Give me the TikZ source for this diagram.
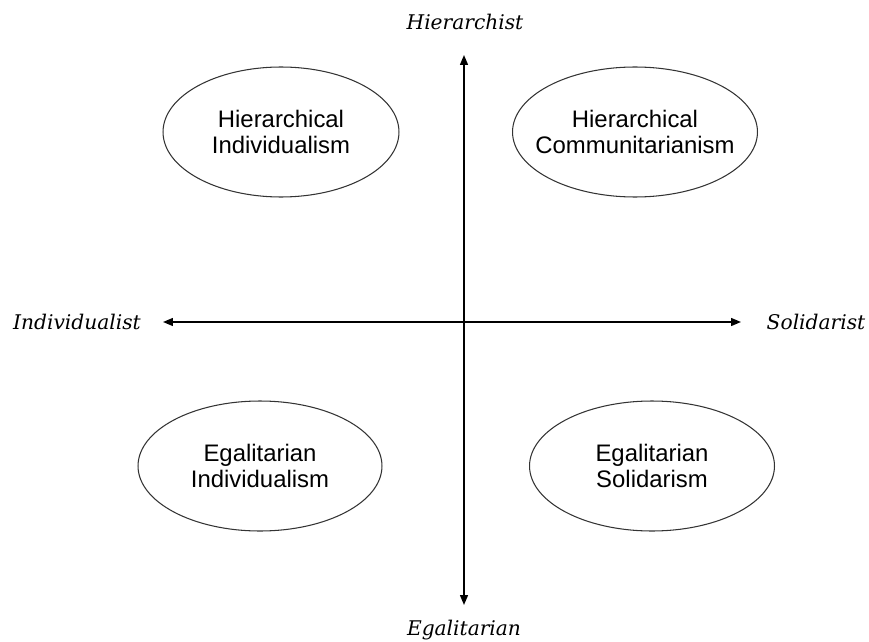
\documentclass[tikz,border=0pt]{standalone}
\usepackage{fontspec}
\setsansfont{Liberation Sans}
\newfontfamily\axisfont{DejaVu Serif}
\usepackage{tikz}
\usetikzlibrary{arrows.meta,shapes.geometric}

\begin{document}
\begin{tikzpicture}[
  x=0.02cm, y=-0.02cm,
  quad/.style={ellipse, draw=black!80, line width=0.6pt, minimum height=2.6cm,
    align=center, font=\sffamily\fontsize{13.6}{14.3}\selectfont, inner sep=0pt},
  pole/.style={font=\axisfont\itshape\fontsize{11.5}{13}\selectfont, inner sep=0pt},
  axis/.style={line width=0.8pt, {Triangle[length=2mm,width=1.6mm]}-{Triangle[length=2mm,width=1.6mm]}}
]
\useasboundingbox (0,0) rectangle (869,642);
% poles of the two axes
\node[pole] (hi) at (465,22) {Hierarchist};
\node[pole] (eg) at (464,630) {Egalitarian};
\node[pole] (in) at (77,322) {Individualist};
\node[pole] (so) at (816,322) {Solidarist};
\coordinate (top) at (464,55);
\coordinate (bot) at (464,605);
\coordinate (lft) at (163,322);
\coordinate (rgt) at (741,322);
\draw[axis] (bot) -- (top);
\draw[axis] (lft) -- (rgt);

% quadrants
\node[quad, minimum width=4.72cm] (hind) at (281,132) {Hierarchical\\Individualism};
\node[quad, minimum width=4.9cm, inner xsep=-0.3cm] (hcom) at (635,132) {Hierarchical\\Communitarianism};
\node[quad, minimum width=4.88cm] (eind) at (260,466) {Egalitarian\\Individualism};
\node[quad, minimum width=4.9cm] (esol) at (652,466) {Egalitarian\\Solidarism};
\end{tikzpicture}
\end{document}
